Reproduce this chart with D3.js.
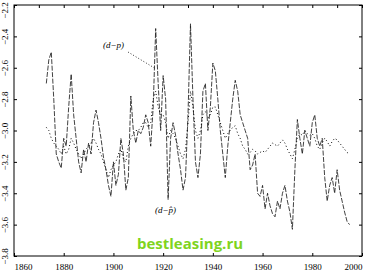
<!DOCTYPE html>
<html>
<head>
<meta charset="utf-8">
<script src="https://cdn.jsdelivr.net/npm/d3@7"></script>
<style>
  body { margin: 0; background: #fff; }
  svg { display: block; }
</style>
</head>
<body>
<script>
// dividend-price ratio, observed (solid) and fitted (dotted)
const years = d3.range(1873, 1996);

const dp = [
  -2.70, -2.55, -2.50, -2.80, -3.15, -3.20, -3.24,
  -3.05, -3.10, -2.85, -2.64, -2.90, -3.05, -3.20, -3.27, -3.12, -3.20,
  -3.08, -3.15, -2.95, -2.87, -2.95, -3.05, -3.17, -3.25, -3.35, -3.42,
  -3.20, -3.35, -3.28, -3.05, -3.15, -3.38, -3.30, -2.78, -3.00, -3.08,
  -3.00, -3.02, -2.98, -2.90, -2.95, -3.10, -2.85, -2.35, -2.70, -3.00,
  -2.65, -2.80, -3.44, -3.05, -2.95, -3.03, -3.15, -3.25, -3.38, -3.30,
  -2.90, -2.32, -2.80, -3.20, -3.30, -3.15, -2.75, -2.70, -3.00, -2.85,
  -2.57, -2.62, -2.80, -3.00, -3.15, -3.30, -3.10, -2.95, -2.80, -2.68,
  -2.75, -2.90, -2.95, -3.00, -3.05, -3.25, -3.22, -3.15, -3.40, -3.42,
  -3.35, -3.50, -3.40, -3.48, -3.53, -3.55, -3.45, -3.50, -3.40, -3.35,
  -3.45, -3.52, -3.63, -3.25, -2.93, -3.05, -3.15, -3.00, -3.05, -3.10,
  -2.95, -2.90, -3.05, -3.10, -3.05, -3.30, -3.45, -3.35, -3.30, -3.40,
  -3.25, -3.38, -3.45, -3.52, -3.58, -3.60
];

const dpHat = [
  -2.98, -3.00, -3.05, -3.08, -3.10, -3.12, -3.15,
  -3.10, -3.15, -3.12, -3.05, -3.08, -3.12, -3.15, -3.18, -3.15, -3.12,
  -3.10, -3.08, -3.05, -3.08, -3.12, -3.15, -3.20, -3.25, -3.30, -3.25,
  -3.22, -3.20, -3.15, -3.12, -3.18, -3.20, -3.10, -3.05, -3.02, -3.00,
  -3.00, -2.98, -2.95, -2.95, -2.98, -2.95, -2.80, -2.75, -2.85, -2.90,
  -2.90, -2.95, -3.05, -3.00, -3.02, -3.05, -3.10, -3.15, -3.18, -3.12,
  -2.95, -2.75, -2.85, -3.00, -3.05, -3.00, -2.90, -2.88, -2.92, -2.90,
  -2.85, -2.85, -2.90, -2.95, -3.00, -3.05, -3.02, -3.00, -2.98, -2.97,
  -3.02, -3.05, -3.10, -3.12, -3.15, -3.14, -3.12, -3.13, -3.15, -3.14,
  -3.13, -3.14, -3.12, -3.10, -3.08, -3.09, -3.10, -3.08, -3.06, -3.08,
  -3.12, -3.15, -3.18, -3.12, -3.05, -3.02, -3.03, -3.00, -3.02, -3.03,
  -3.02, -3.05, -3.10, -3.12, -3.08, -3.05, -3.07, -3.10, -3.07, -3.05,
  -3.06, -3.08, -3.10, -3.12, -3.14, -3.15
];

const xTicks = [1860, 1880, 1900, 1920, 1940, 1960, 1980, 2000];
const yTicks = [-2.2, -2.4, -2.6, -2.8, -3.0, -3.2, -3.4, -3.6, -3.8];

const width = 375, height = 273;
const m = { left: 14, right: 362, top: 5, bottom: 256 };

const svg = d3.select("body").append("svg")
    .attr("width", width)
    .attr("height", height);

const x = d3.scaleLinear().domain([1860, 2000]).range([m.left, m.right]);
const y = d3.scaleLinear().domain([-3.8, -2.2]).range([m.bottom, m.top]);

// frame
svg.append("rect")
    .attr("x", m.left).attr("y", m.top)
    .attr("width", m.right - m.left).attr("height", m.bottom - m.top)
    .attr("fill", "none").attr("stroke", "#000").attr("stroke-width", 1);

const font = "'Liberation Serif', serif";

// bottom axis, ticks pointing inward
const xAxis = svg.append("g")
    .attr("transform", `translate(0,${m.bottom})`)
    .call(d3.axisBottom(x).tickValues(xTicks).tickFormat(d3.format("d"))
        .tickSizeInner(-3).tickSizeOuter(0).tickPadding(8));
xAxis.select(".domain").remove();
xAxis.selectAll("text")
    .attr("font-family", font).attr("font-size", 9).attr("fill", "#000")
    .attr("text-anchor", (d, i) => i === 0 ? "start" : i === xTicks.length - 1 ? "end" : "middle");

// top ticks every ten years
svg.append("g")
    .attr("transform", `translate(0,${m.top})`)
    .call(d3.axisTop(x).tickValues(d3.range(1860, 2001, 10)).tickFormat("")
        .tickSizeInner(-3).tickSizeOuter(0))
    .select(".domain").remove();

// left axis, rotated labels (top one nudged down so it stays on the page)
const yAxis = svg.append("g")
    .attr("transform", `translate(${m.left},0)`)
    .call(d3.axisLeft(y).tickValues(yTicks).tickFormat(d3.format(".1f"))
        .tickSizeInner(-3).tickSizeOuter(0).tickPadding(0));
yAxis.select(".domain").remove();
yAxis.selectAll("text")
    .attr("font-family", font).attr("font-size", 9).attr("fill", "#000")
    .attr("text-anchor", "middle")
    .attr("x", 0).attr("dy", 0)
    .attr("transform", (d, i) => `translate(-6,${i === 0 ? 5 : 0}) rotate(-90)`);

svg.append("g")
    .attr("transform", `translate(${m.right},0)`)
    .call(d3.axisRight(y).tickValues(yTicks).tickFormat("")
        .tickSizeInner(-3).tickSizeOuter(0))
    .select(".domain").remove();

svg.selectAll(".tick line").attr("stroke", "#000");

// series
const line = d3.line()
    .x((d, i) => x(years[i]))
    .y(d => y(d));

svg.append("path")
    .datum(dpHat)
    .attr("d", line)
    .attr("fill", "none")
    .attr("stroke", "#000")
    .attr("stroke-width", 1)
    .attr("stroke-dasharray", "1,2.5");

svg.append("path")
    .datum(dp)
    .attr("d", line)
    .attr("fill", "none")
    .attr("stroke", "#111")
    .attr("stroke-width", 0.8)
    .attr("stroke-dasharray", "5,1.5");

// labels
svg.append("text")
    .attr("x", 103).attr("y", 48)
    .attr("font-family", font).attr("font-style", "italic").attr("font-size", 9)
    .text("(d−p)");

svg.append("line")
    .attr("x1", 128).attr("y1", 52)
    .attr("x2", x(1916.5)).attr("y2", 68)
    .attr("stroke", "#000").attr("stroke-width", 0.8)
    .attr("stroke-dasharray", "1,2");

svg.append("text")
    .attr("x", 155).attr("y", 213)
    .attr("font-family", font).attr("font-style", "italic").attr("font-size", 9)
    .text("(d−p̂)");

// watermark
svg.append("text")
    .attr("x", 190).attr("y", 249)
    .attr("text-anchor", "middle")
    .attr("font-family", "'Open Sans', sans-serif").attr("font-weight", "bold")
    .attr("font-size", 15).attr("fill", "#7fd41e")
    .text("bestleasing.ru");
</script>
</body>
</html>
